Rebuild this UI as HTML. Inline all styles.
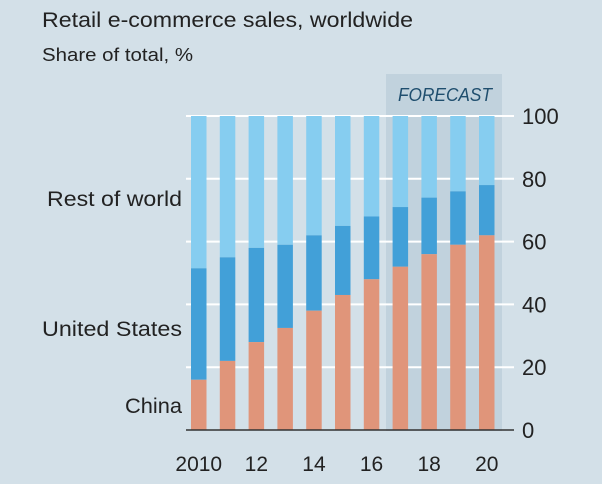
<!DOCTYPE html>
<html><head><meta charset="utf-8"><style>
body{margin:0;background:#d3e0e8;}
svg{display:block;font-family:"Liberation Sans",sans-serif;}
</style></head><body>
<svg id="c" width="602" height="484">
<rect width="602" height="484" fill="#d3e0e8"/>
<text x="42" y="27" font-size="21" fill="#222" textLength="371" lengthAdjust="spacingAndGlyphs">Retail e-commerce sales, worldwide</text>
<text x="42" y="61" font-size="18" fill="#222" textLength="151" lengthAdjust="spacingAndGlyphs">Share of total, %</text>
<rect x="386" y="74" width="116" height="357" fill="#c1d2dd"/>
<text x="398" y="101" font-size="18" font-style="italic" fill="#1f4e6e" textLength="94" lengthAdjust="spacingAndGlyphs">FORECAST</text>
<g id="grid"></g><g id="bars"></g><g id="axis"></g>
<text x="47" y="206" font-size="21" fill="#222" textLength="135" lengthAdjust="spacingAndGlyphs">Rest of world</text>
<text x="42" y="336" font-size="21" fill="#222" textLength="140" lengthAdjust="spacingAndGlyphs">United States</text>
<text x="125" y="413" font-size="21" fill="#222" textLength="57" lengthAdjust="spacingAndGlyphs">China</text>
</svg>
<script>
const years=[2010,2011,2012,2013,2014,2015,2016,2017,2018,2019,2020];
const china=[16,22,28,32.5,38,43,48,52,56,59,62];
const unitedStates=[35.5,33,30,26.5,24,22,20,19,18,17,16];
const yTicks=[0,20,40,60,80,100];
const xLabels=["2010","12","14","16","18","20"];
const NS="http://www.w3.org/2000/svg";
const y=v=>430-v*3.14;
const x=i=>191+i*28.8;
const bw=15.5;
function mk(tag,attrs,parent){const e=document.createElementNS(NS,tag);for(const k in attrs)e.setAttribute(k,attrs[k]);parent.appendChild(e);return e;}
const grid=document.getElementById('grid'),bars=document.getElementById('bars'),axis=document.getElementById('axis');
yTicks.forEach(t=>{
 if(t>0){const l=mk('line',{x1:186,x2:514,y1:y(t),y2:y(t),stroke:'#fff','stroke-width':2},grid);
 
 }
 const tx=mk('text',{x:522,y:y(t)+8,'font-size':22,fill:'#222'},axis);tx.textContent=t;
 
 
});
years.forEach((yr,i)=>{
 const c=china[i],u=unitedStates[i];
 const r1=mk('rect',{x:x(i),y:y(100),width:bw,height:y(c+u)-y(100),fill:'#86cdf0'},bars);
 
 
 const r2=mk('rect',{x:x(i),y:y(c+u),width:bw,height:y(c)-y(c+u),fill:'#42a0d8'},bars);
 
 
 const r3=mk('rect',{x:x(i),y:y(c),width:bw,height:y(0)-y(c),fill:'#e0957a'},bars);
 
 
});
const base=mk('line',{x1:186,x2:514,y1:430,y2:430,stroke:'#333','stroke-width':1.5},axis);


xLabels.forEach((lab,j)=>{
 const i=j*2;
 const t=mk('text',{x:x(i)+bw/2,y:471,'font-size':21,fill:'#222','text-anchor':'middle'},axis);
 t.textContent=lab;
 
 
});
</script>
</body></html>
